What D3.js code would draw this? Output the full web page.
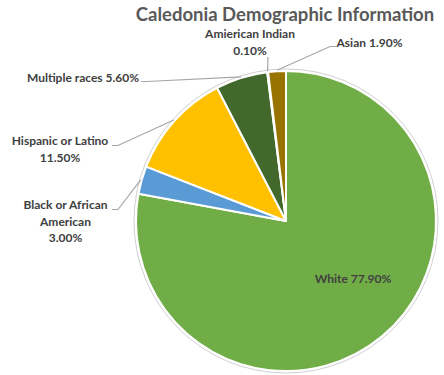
<!DOCTYPE html>
<html>
<head>
<meta charset="utf-8">
<script src="https://cdn.jsdelivr.net/npm/d3@7"></script>
<style>
  html, body { margin: 0; padding: 0; background: #fff; }
  svg { display: block; }
  text { font-family: Lato, "Open Sans", sans-serif; font-weight: bold; }
</style>
</head>
<body>
<svg id="chart" width="444" height="375"></svg>
<script>
// Caledonia population by race / ethnicity (percent)
const categories = ["White", "Black or African American", "Hispanic or Latino", "Multiple races", "Amierican Indian", "Asian"];
const values = [77.9, 3.0, 11.5, 5.6, 0.1, 1.9];
const colors = ["#70AD47", "#5B9BD5", "#FFC000", "#43682B", "#9E480E", "#997300"];
// label text lines; the value is appended from `values`
const labelLines = [
  ["White {v}"],
  ["Black or African", "American", "{v}"],
  ["Hispanic or Latino", "{v}"],
  ["Multiple races {v}"],
  ["Amierican Indian", "{v}"],
  ["Asian {v}"]
];

const svg = d3.select("#chart");
const W = 444, H = 375;
const cx = 286, cy = 221, R = 150;

// title
svg.append("text")
  .attr("x", 285).attr("y", 21)
  .attr("text-anchor", "middle")
  .attr("fill", "#595959")
  .attr("font-size", 18.5)
  .text("Caledonia Demographic Information");

const pie = d3.pie().sort(null).value(d => d).startAngle(0).endAngle(2 * Math.PI);
const arcs = pie(values);
const arc = d3.arc().innerRadius(0).outerRadius(R);

const g = svg.append("g").attr("transform", `translate(${cx},${cy})`);

// faint outline around the pie
g.append("circle").attr("r", R + 2)
  .attr("fill", "none").attr("stroke", "#d0d0d0").attr("stroke-width", 1);

g.selectAll("path.slice").data(arcs).join("path")
  .attr("class", "slice")
  .attr("d", arc)
  .attr("fill", (d, i) => colors[i])
  .attr("stroke", "#fff")
  .attr("stroke-width", 2)
  .attr("stroke-linejoin", "round");

const fmt = v => v.toFixed(2) + "%";

// label placement: anchor point (center of first line baseline) and leader elbow
const layout = [
  { x: 353, y: 283, inside: true },
  { x: 65.5, y: 209, elbow: [[112, 209.5], [118, 209.5]] },
  { x: 60, y: 145, elbow: [[112, 145.5], [118, 145.5]] },
  { x: 83, y: 82, elbow: [[141, 81.5], [147, 81.5]] },
  { x: 250, y: 38, elbow: [[268, 57], [268, 57]], dy: 16.5 },
  { x: 369.5, y: 47, elbow: [[336, 46.5], [330, 46.5]] }
];

const lineH = 16.5;
const lblFill = "#404040";
const fs = 12;

arcs.forEach((a, i) => {
  const L = layout[i];
  const lines = labelLines[i].map(s => s.replace("{v}", fmt(values[i])));
  const t = svg.append("text")
    .attr("text-anchor", "middle")
    .attr("fill", lblFill)
    .attr("font-size", fs);
  lines.forEach((s, k) => {
    t.append("tspan").attr("x", L.x).attr("y", L.y + k * (L.dy || lineH)).text(s);
  });
  if (!L.inside) {
    const mid = (a.startAngle + a.endAngle) / 2;
    const edge = [cx + (R + 1) * Math.sin(mid), cy - (R + 1) * Math.cos(mid)];
    const pts = [L.elbow[0], L.elbow[1], edge];
    svg.append("path")
      .attr("d", d3.line()(pts))
      .attr("fill", "none")
      .attr("stroke", "#A6A6A6")
      .attr("stroke-width", 1.2);
  }
});
</script>
</body>
</html>
